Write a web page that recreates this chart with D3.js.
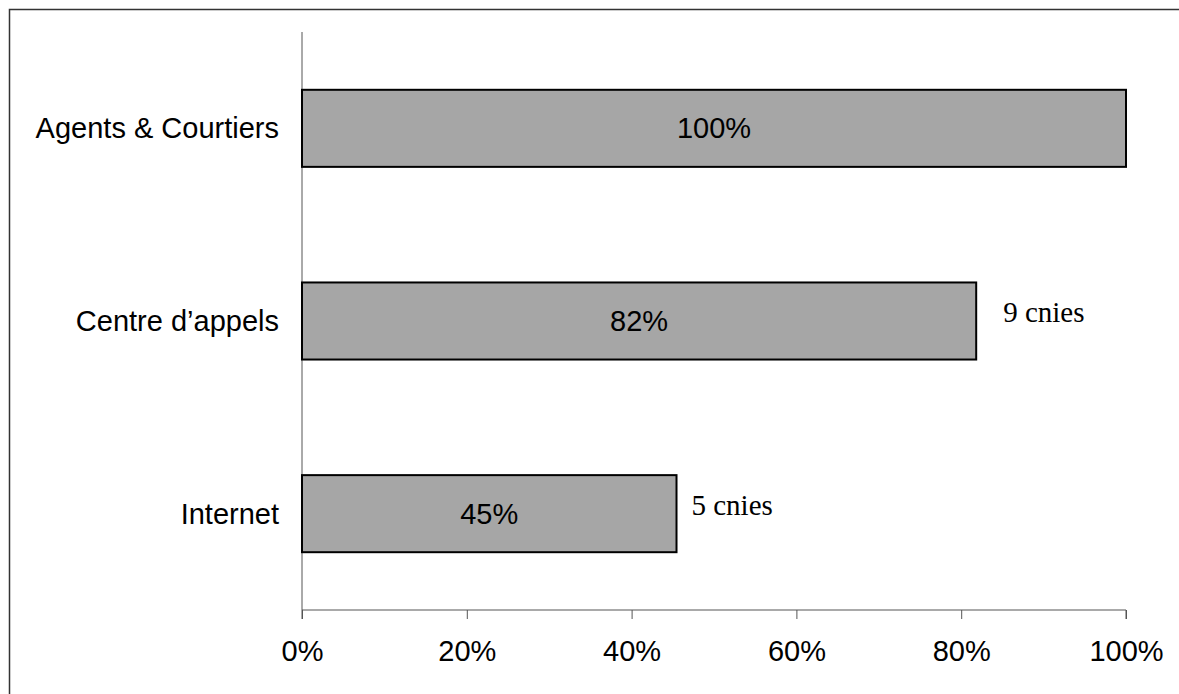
<!DOCTYPE html>
<html>
<head>
<meta charset="utf-8">
<script src="https://cdn.jsdelivr.net/npm/d3@7"></script>
<style>
  body { margin: 0; background: #fff; }
  svg { display: block; }
</style>
</head>
<body>
<svg id="chart" width="1179" height="694"></svg>
<script>
// data
const categories = ["Agents & Courtiers", "Centre d’appels", "Internet"];
const values = [100, 81.82, 45.45];
const valueLabels = ["100%", "82%", "45%"];
const notes = ["", "9 cnies", "5 cnies"];
const ticks = [0, 20, 40, 60, 80, 100];

const svg = d3.select("#chart");
const sans = "Arial, 'Liberation Sans', sans-serif";

// outer frame (cut off at right and bottom in the original)
svg.append("rect")
    .attr("x", 9.5).attr("y", 9.5)
    .attr("width", 1200).attr("height", 720)
    .attr("fill", "none").attr("stroke", "#333").attr("stroke-width", 1.5);

const x = d3.scaleLinear().domain([0, 100]).range([302, 1126]);
const y = d3.scaleBand().domain(categories).range([32, 610]).paddingInner(0.6).paddingOuter(0.3);

// y axis line
svg.append("line")
    .attr("x1", 302).attr("x2", 302).attr("y1", 32).attr("y2", 610)
    .attr("stroke", "#555").attr("stroke-width", 1);

// x axis
const xAxis = d3.axisBottom(x).tickValues(ticks).tickFormat(d => d + "%").tickSize(9).tickPadding(21);
const gx = svg.append("g").attr("transform", "translate(0,610)").call(xAxis);
gx.select(".domain").attr("stroke", "#555").attr("d", "M302,9V0H1126V9");
gx.selectAll(".tick line").attr("stroke", "#555");
gx.selectAll(".tick text")
    .attr("fill", "#000")
    .style("font-family", sans)
    .style("font-size", "29px");

// category labels
svg.selectAll(".cat").data(categories).enter().append("text")
    .attr("class", "cat")
    .attr("x", 279)
    .attr("y", d => y(d) + y.bandwidth() / 2)
    .attr("dy", "0.35em")
    .attr("text-anchor", "end")
    .style("font-family", sans)
    .style("font-size", "29px")
    .text(d => d);

// bars
svg.selectAll(".bar").data(values).enter().append("rect")
    .attr("class", "bar")
    .attr("x", x(0))
    .attr("y", (d, i) => y(categories[i]))
    .attr("width", d => x(d) - x(0))
    .attr("height", y.bandwidth())
    .attr("fill", "#a6a6a6")
    .attr("stroke", "#000")
    .attr("stroke-width", 2);

// value labels inside bars
svg.selectAll(".val").data(values).enter().append("text")
    .attr("class", "val")
    .attr("x", d => (x(0) + x(d)) / 2)
    .attr("y", (d, i) => y(categories[i]) + y.bandwidth() / 2)
    .attr("dy", "0.35em")
    .attr("text-anchor", "middle")
    .style("font-family", sans)
    .style("font-size", "29px")
    .text((d, i) => valueLabels[i]);

// notes next to bars
const noteGap = [0, 27, 15];
svg.selectAll(".note").data(values).enter().append("text")
    .attr("class", "note")
    .attr("x", (d, i) => x(d) + noteGap[i])
    .attr("y", (d, i) => y(categories[i]) + y.bandwidth() / 2 - 9)
    .attr("dy", "0.35em")
    .style("font-family", "'Times New Roman', 'Liberation Serif', serif")
    .style("font-size", "29px")
    .text((d, i) => notes[i]);
</script>
</body>
</html>
